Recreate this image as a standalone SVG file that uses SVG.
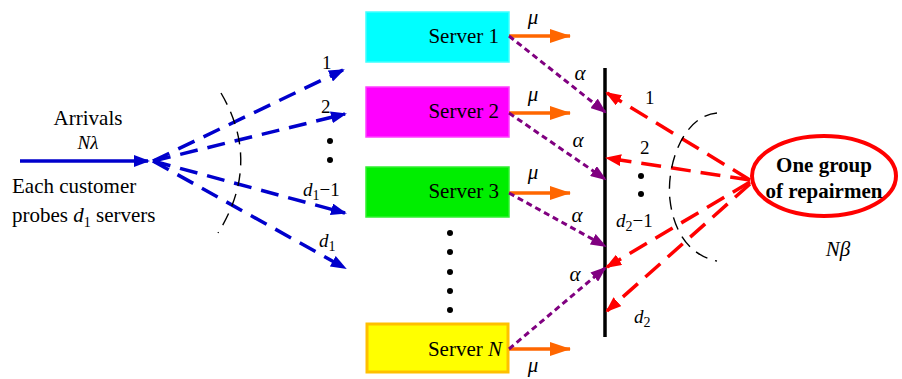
<svg xmlns="http://www.w3.org/2000/svg" width="902" height="379" viewBox="0 0 902 379">
<defs>
<marker id="ab" viewBox="0 0 16 12" refX="14" refY="6" markerWidth="16" markerHeight="12" markerUnits="userSpaceOnUse" orient="auto"><path d="M0,0 L16,6 L0,12 z" fill="#0000CC"/></marker>
<marker id="ar" viewBox="0 0 16 12" refX="14" refY="6" markerWidth="16" markerHeight="12" markerUnits="userSpaceOnUse" orient="auto"><path d="M0,0 L16,6 L0,12 z" fill="#FF0000"/></marker>
<marker id="ap" viewBox="0 0 16 12" refX="14" refY="6" markerWidth="16" markerHeight="12" markerUnits="userSpaceOnUse" orient="auto"><path d="M0,0 L16,6 L0,12 z" fill="#800080"/></marker>
<marker id="ao" viewBox="0 0 21 14" refX="20" refY="7" markerWidth="21" markerHeight="14" markerUnits="userSpaceOnUse" orient="auto"><path d="M0,0 L21,7 L0,14 z" fill="#FF6600"/></marker>
</defs>
<rect width="902" height="379" fill="#fff"/>

<g id="arrivals">
<text font-family="Liberation Serif, serif" font-size="21" x="88" y="125" text-anchor="middle">Arrivals</text>
<text font-family="Liberation Serif, serif" font-size="19" font-style="italic" x="88" y="149" text-anchor="middle">Nλ</text>
<text font-family="Liberation Serif, serif" font-size="21" x="12" y="193">Each customer</text>
<text font-family="Liberation Serif, serif" font-size="21" x="12" y="222">probes <tspan font-style="italic">d</tspan><tspan font-size="14" dy="5">1</tspan><tspan dy="-5"> servers</tspan></text>
</g>

<g id="server1">
<rect x="366" y="12" width="143" height="50" fill="#00FFFF" stroke="#40FFFF" stroke-width="1.5"/>
<text font-family="Liberation Serif, serif" font-size="21" x="499" y="43" text-anchor="end">Server 1</text>
</g>
<g id="server2">
<rect x="366" y="87" width="143" height="50" fill="#FF00FF" stroke="#FF40FF" stroke-width="1.5"/>
<text font-family="Liberation Serif, serif" font-size="21" x="499" y="118" text-anchor="end">Server 2</text>
</g>
<g id="server3">
<rect x="366" y="167" width="143" height="50" fill="#00EE00" stroke="#30F030" stroke-width="1.5"/>
<text font-family="Liberation Serif, serif" font-size="21" x="499" y="198" text-anchor="end">Server 3</text>
</g>
<g id="serverN">
<rect x="367" y="324" width="141" height="48" fill="#FFFF00" stroke="#FFC000" stroke-width="3"/>
<text font-family="Liberation Serif, serif" font-size="21" x="502" y="356" text-anchor="end">Server <tspan font-style="italic">N</tspan></text>
</g>
<g id="server-dots" fill="#000">
<circle cx="450" cy="233" r="3"/>
<circle cx="450" cy="252" r="3"/>
<circle cx="450" cy="272" r="3"/>
<circle cx="450" cy="291" r="3"/>
<circle cx="450" cy="310" r="3"/>
</g>

<g id="repair-bar">
<line x1="605" y1="68" x2="605" y2="337" stroke="#000" stroke-width="3.5"/>
</g>

<g id="repairmen">
<ellipse cx="824" cy="176" rx="72" ry="40" fill="#fff" stroke="#FF0000" stroke-width="4"/>
<text font-family="Liberation Serif, serif" font-size="21" font-weight="bold" x="824" y="172" text-anchor="middle">One group</text>
<text font-family="Liberation Serif, serif" font-size="21" font-weight="bold" x="824" y="198" text-anchor="middle">of repairmen</text>
<text font-family="Liberation Serif, serif" font-size="21" font-style="italic" x="838" y="256" text-anchor="middle">Nβ</text>
</g>

<g id="connectors">
<line x1="20" y1="161" x2="148" y2="161" stroke="#0000CC" stroke-width="3.5" marker-end="url(#ab)"/>
<g stroke="#0000CC" stroke-width="3.5" fill="none" stroke-dasharray="18 10">
<line x1="153" y1="161" x2="343" y2="70" marker-end="url(#ab)"/>
<line x1="153" y1="161" x2="345" y2="114" marker-end="url(#ab)"/>
<line x1="153" y1="161" x2="345" y2="213" marker-end="url(#ab)"/>
<line x1="153" y1="161" x2="345" y2="268" marker-end="url(#ab)"/>
</g>
<path d="M221,93 Q262,163 218,233" stroke="#000" stroke-width="1.4" fill="none" stroke-dasharray="13 8"/>
<text font-family="Liberation Serif, serif" font-size="19" x="322" y="69">1</text>
<text font-family="Liberation Serif, serif" font-size="19" x="321" y="113">2</text>
<circle cx="330" cy="141" r="3" fill="#000"/>
<circle cx="330" cy="160" r="3" fill="#000"/>
<text font-family="Liberation Serif, serif" font-size="19" x="303" y="196"><tspan font-style="italic">d</tspan><tspan font-size="14" dy="4">1</tspan><tspan dy="-4">−1</tspan></text>
<text font-family="Liberation Serif, serif" font-size="19" x="319" y="247"><tspan font-style="italic">d</tspan><tspan font-size="14" dy="4">1</tspan></text>

<g stroke="#FF6600" stroke-width="3.5" fill="none">
<line x1="509" y1="36" x2="570" y2="36" marker-end="url(#ao)"/>
<line x1="509" y1="113" x2="570" y2="113" marker-end="url(#ao)"/>
<line x1="509" y1="193" x2="570" y2="193" marker-end="url(#ao)"/>
<line x1="509" y1="349" x2="570" y2="349" marker-end="url(#ao)"/>
</g>
<text font-family="Liberation Serif, serif" font-size="21" font-style="italic" x="533" y="24" text-anchor="middle">μ</text>
<text font-family="Liberation Serif, serif" font-size="21" font-style="italic" x="533" y="101" text-anchor="middle">μ</text>
<text font-family="Liberation Serif, serif" font-size="21" font-style="italic" x="533" y="179" text-anchor="middle">μ</text>
<text font-family="Liberation Serif, serif" font-size="21" font-style="italic" x="533" y="372" text-anchor="middle">μ</text>

<g stroke="#800080" stroke-width="3" fill="none" stroke-dasharray="6 4">
<line x1="509" y1="36" x2="605" y2="112" marker-end="url(#ap)"/>
<line x1="509" y1="113" x2="605" y2="179" marker-end="url(#ap)"/>
<line x1="509" y1="193" x2="605" y2="246" marker-end="url(#ap)"/>
<line x1="509" y1="349" x2="605" y2="268" marker-end="url(#ap)"/>
</g>
<text font-family="Liberation Serif, serif" font-size="21" font-style="italic" x="580" y="80" text-anchor="middle">α</text>
<text font-family="Liberation Serif, serif" font-size="21" font-style="italic" x="578" y="147" text-anchor="middle">α</text>
<text font-family="Liberation Serif, serif" font-size="21" font-style="italic" x="577" y="222" text-anchor="middle">α</text>
<text font-family="Liberation Serif, serif" font-size="21" font-style="italic" x="575" y="281" text-anchor="middle">α</text>

<g stroke="#FF0000" stroke-width="3.5" fill="none" stroke-dasharray="20 10">
<line x1="750" y1="180" x2="607" y2="93" marker-end="url(#ar)"/>
<line x1="750" y1="180" x2="607" y2="158" marker-end="url(#ar)"/>
<line x1="750" y1="182" x2="607" y2="267" marker-end="url(#ar)"/>
<line x1="750" y1="184" x2="607" y2="311" marker-end="url(#ar)"/>
</g>
<path d="M717,113 C683,116 666,165 670,200 C674,235 692,256 717,261" stroke="#000" stroke-width="1.4" fill="none" stroke-dasharray="13 8"/>
<text font-family="Liberation Serif, serif" font-size="19" x="645" y="104">1</text>
<text font-family="Liberation Serif, serif" font-size="19" x="640" y="154">2</text>
<circle cx="641" cy="176" r="3" fill="#000"/>
<circle cx="641" cy="194" r="3" fill="#000"/>
<text font-family="Liberation Serif, serif" font-size="19" x="616" y="227"><tspan font-style="italic">d</tspan><tspan font-size="14" dy="4">2</tspan><tspan dy="-4">−1</tspan></text>
<text font-family="Liberation Serif, serif" font-size="19" x="634" y="323"><tspan font-style="italic">d</tspan><tspan font-size="14" dy="4">2</tspan></text>
</g>
</svg>
